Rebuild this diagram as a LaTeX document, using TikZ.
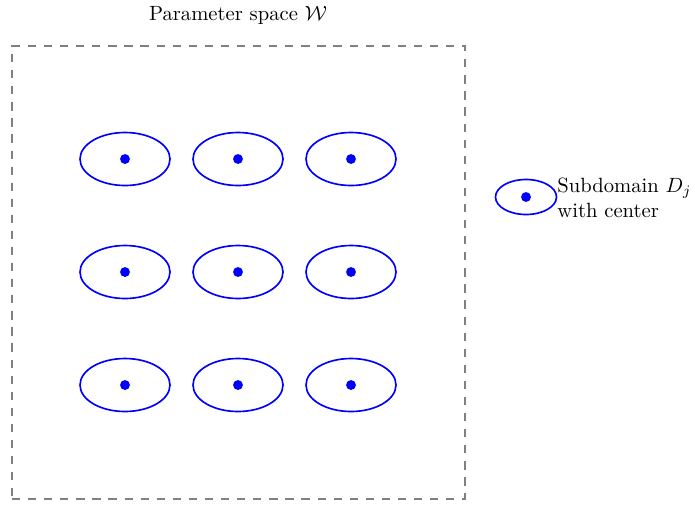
\documentclass[tikz,border=0pt]{standalone}
\usetikzlibrary{shapes.geometric}
\begin{document}
\begin{tikzpicture}[x=0.485pt,y=-0.485pt,
  sub/.style={draw=blue,thick,ellipse,minimum width=90*0.485pt,minimum height=53*0.485pt,inner sep=0pt},
  subsmall/.style={draw=blue,thick,ellipse,minimum width=61*0.485pt,minimum height=35*0.485pt,inner sep=0pt},
  ctr/.style={circle,fill=blue,inner sep=0pt,minimum size=4.8pt},
  boxline/.style={draw=gray,thick,dash pattern=on 4pt off 3.8pt}]
\useasboundingbox (0,0) rectangle (693,504);
\node[boxline,rectangle,minimum width=453*0.485pt,minimum height=453*0.485pt,inner sep=0pt] (W) at (238.5,272.5) {};
\node (title) at (238,15) {Parameter space $\mathcal{W}$};
\foreach \i/\x in {1/125,2/238,3/351}{
  \foreach \j/\y in {1/159,2/272,3/385}{
    \node[sub] (D\i\j) at (\x,\y) {};
    \node[ctr] (c\i\j) at (D\i\j.center) {};
  }
}
\node[subsmall] (L) at (526,197) {};
\node[ctr] (Lc) at (L.center) {};
\node[anchor=west,align=left,inner sep=0pt] (Ltext) at (557,198) {Subdomain $D_j$\\with center};
\end{tikzpicture}
\end{document}
